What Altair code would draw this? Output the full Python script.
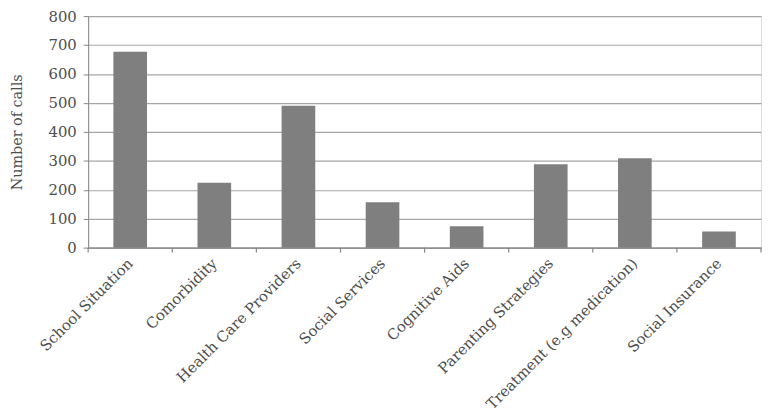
import altair as alt
import pandas as pd

categories = ["School Situation", "Comorbidity", "Health Care Providers", "Social Services",
              "Cognitive Aids", "Parenting Strategies", "Treatment (e.g medication)", "Social Insurance"]
calls = [677, 224, 490, 157, 74, 288, 309, 56]

df = pd.DataFrame({"category": categories, "calls": calls})

W, H = 680, 234
step = W / len(categories)
FONT = "DejaVu Serif"
TXT = "#4D4D4D"

x = alt.X("category:N", sort=categories, title=None,
          scale=alt.Scale(paddingInner=0.6, paddingOuter=0.3),
          axis=alt.Axis(labelAngle=-45, labelFontSize=15, labelFont=FONT, labelColor=TXT,
                        ticks=False, domainColor="#868686", domainWidth=1.2, labelPadding=13,
                        labelAlign="right", labelBaseline="middle", labelLimit=300))

bars = alt.Chart(df).mark_bar(color="#7F7F7F").encode(
    x=x,
    y=alt.Y("calls:Q", title="Number of calls",
            scale=alt.Scale(domain=[0, 800]),
            axis=alt.Axis(values=list(range(0, 801, 100)), labelFontSize=15, labelFont=FONT,
                          labelColor=TXT, titleFont=FONT, titleFontSize=14.5, titleColor=TXT,
                          titleFontWeight="normal", titlePadding=24,
                          gridColor="#A6A6A6", gridWidth=1.2, domainColor="#868686",
                          tickColor="#868686", tickSize=5, labelPadding=7)),
)

ticks = alt.Chart(df).mark_rule(color="#868686", xOffset=-step / 2, strokeWidth=1.2).encode(
    x=alt.X("category:N", sort=categories),
    y=alt.value(H), y2=alt.value(H + 5),
)
end_tick = alt.Chart(df.head(1)).mark_rule(color="#868686", strokeWidth=1.2).encode(
    x=alt.value(W), y=alt.value(H), y2=alt.value(H + 5),
)

chart = alt.layer(bars, ticks, end_tick).properties(
    width=W, height=H,
    autosize=alt.AutoSizeParams(type="none"),
    padding={"left": 81, "top": 6, "right": 2, "bottom": 170},
).configure_view(stroke=None).configure(background="white")

chart.save("out.html", embed_options={"renderer": "svg", "actions": False})
